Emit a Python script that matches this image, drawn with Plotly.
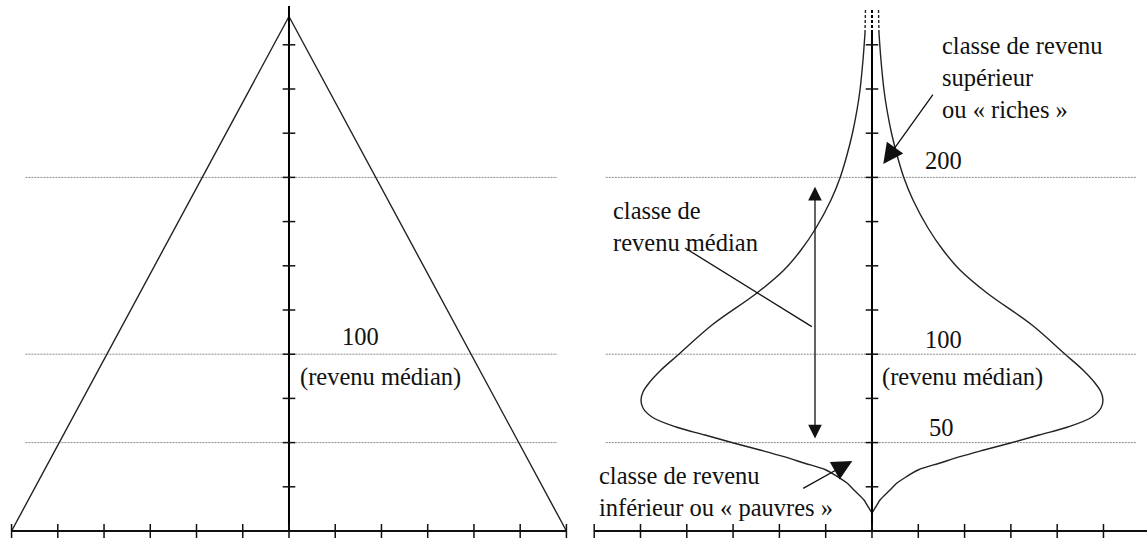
import plotly.graph_objects as go

# ---------------- data ----------------
x_ticks_left = [-6, -5, -4, -3, -2, -1, 0, 1, 2, 3, 4, 5, 6]
x_ticks_right = [-6, -5, -4, -3, -2, -1, 0, 1, 2, 3, 4, 5]
income_ticks = [25, 50, 75, 100, 125, 150, 175, 200, 225, 250, 275]
ref_levels_left = [50, 100, 200]
ref_levels_right = [50, 100, 200]

# pyramid (left panel)
pyramid_x = [-6, 0, 6]
pyramid_y = [0, 291, 0]
axis_top = 297

# income distribution (right panel): income level and half width
dist_levels = [10.18, 14.71, 17.53, 23.19, 27.15, 30.54, 34.50, 38.46, 42.03, 45.81,
               49.77, 54.30, 58.82, 64.48, 69.57, 74.09, 78.62, 83.71, 91.06, 99.55,
               116.52, 134.62, 147.62, 158.94, 171.38, 187.22, 199.66, 212.67, 225.11,
               238.12, 249.43, 266.40, 281.67]
dist_half_width = [0.0, 0.108, 0.173, 0.389, 0.540, 0.734, 0.994, 1.469, 1.901, 2.419,
                   2.991, 3.607, 4.233, 4.752, 4.946, 4.989, 4.946, 4.816, 4.557, 4.190,
                   3.456, 2.484, 1.901, 1.533, 1.210, 0.886, 0.691, 0.540, 0.421,
                   0.324, 0.259, 0.194, 0.151]
dist_top_levels = [281.67, 295.8]
dist_top_half_width = [0.151, 0.14]

# ---------------- figure ----------------
fig = go.Figure()
LINE = "#222222"
FONT = dict(family="Liberation Serif, Times New Roman, serif", size=24.5, color="#111111")

def add(tr):
    fig.add_trace(tr)

# ----- left panel -----
for lv in ref_levels_left:
    add(go.Scatter(x=[-5.7, 5.8], y=[lv, lv], mode="lines", xaxis="x", yaxis="y",
                   line=dict(color="#8a8a8a", width=1, dash="2px,1px"), hoverinfo="skip"))
add(go.Scatter(x=pyramid_x, y=pyramid_y, mode="lines", xaxis="x", yaxis="y",
               line=dict(color=LINE, width=1.4)))
add(go.Scatter(x=[x_ticks_left[0], x_ticks_left[-1]], y=[0, 0], mode="lines",
               xaxis="x", yaxis="y", line=dict(color="#111", width=2)))
add(go.Scatter(x=[0, 0], y=[0, axis_top], mode="lines", xaxis="x", yaxis="y",
               line=dict(color="#000", width=2)))
add(go.Scatter(x=x_ticks_left, y=[0] * len(x_ticks_left), mode="markers", xaxis="x", yaxis="y",
               marker=dict(symbol="line-ns", size=10, line=dict(color="#111", width=1.5))))
add(go.Scatter(x=[0] * len(income_ticks), y=income_ticks, mode="markers", xaxis="x", yaxis="y",
               marker=dict(symbol="line-ew", size=9, line=dict(color="#111", width=1.5))))

# ----- right panel -----
for lv in ref_levels_right:
    add(go.Scatter(x=[-5.75, 5.72], y=[lv, lv], mode="lines", xaxis="x2", yaxis="y2",
                   line=dict(color="#8a8a8a", width=1, dash="2px,1px"), hoverinfo="skip"))
for sgn in (-1, 1):
    add(go.Scatter(x=[sgn * w for w in dist_half_width], y=dist_levels, mode="lines",
                   xaxis="x2", yaxis="y2", line=dict(color=LINE, width=1.4, shape="spline", smoothing=1.0)))
    add(go.Scatter(x=[sgn * w for w in dist_top_half_width], y=dist_top_levels, mode="lines",
                   xaxis="x2", yaxis="y2", line=dict(color=LINE, width=1.4, dash="3px,2px")))
add(go.Scatter(x=[0, 0], y=dist_top_levels, mode="lines", xaxis="x2", yaxis="y2",
               line=dict(color="#000", width=2, dash="3px,2px")))
add(go.Scatter(x=[0, 0], y=[0, dist_top_levels[0]], mode="lines", xaxis="x2", yaxis="y2",
               line=dict(color="#000", width=2)))
add(go.Scatter(x=[x_ticks_right[0], 7], y=[0, 0], mode="lines", xaxis="x2", yaxis="y2",
               line=dict(color="#111", width=2)))
add(go.Scatter(x=x_ticks_right, y=[0] * len(x_ticks_right), mode="markers", xaxis="x2", yaxis="y2",
               marker=dict(symbol="line-ns", size=10, line=dict(color="#111", width=1.5))))
add(go.Scatter(x=[0] * len(income_ticks), y=income_ticks, mode="markers", xaxis="x2", yaxis="y2",
               marker=dict(symbol="line-ew", size=9, line=dict(color="#111", width=1.5))))

# ----- annotations -----
ann = []
def text(x, y, s, ref):
    ann.append(dict(x=x, y=y, xref=ref[0], yref=ref[1], text=s, showarrow=False,
                    xanchor="left", yanchor="middle", align="left", font=FONT))

def arrow(x, y, ax, ay, size, both=False):
    d = dict(x=x, y=y, ax=ax, ay=ay, xref="x2", yref="y2", axref="x2", ayref="y2",
             text="", showarrow=True, arrowhead=2, arrowsize=size,
             arrowwidth=1.3, arrowcolor="#111", standoff=0, startstandoff=0)
    if both:
        d.update(arrowside="end+start", startarrowhead=2, startarrowsize=size)
    ann.append(d)

text(1.10, 109.9, "100", ("x", "y"))
text(0.19, 87.3, "(revenu médian)", ("x", "y"))

text(1.46, 256.5, "classe de revenu<br>supérieur<br>ou « riches »", ("x2", "y2"))
text(1.10, 209.8, "200", ("x2", "y2"))
text(-5.63, 172.5, "classe de<br>revenu médian", ("x2", "y2"))
text(1.10, 108.6, "100", ("x2", "y2"))
text(0.17, 87.1, "(revenu médian)", ("x2", "y2"))
text(1.18, 58.8, "50", ("x2", "y2"))
text(-5.95, 22.1, "classe de revenu<br>inférieur ou « pauvres »", ("x2", "y2"))

arrow(0.244, 207.6, 1.339, 247.6, 3.1)
arrow(-0.425, 39.6, -1.518, 23.6, 3.1)
arrow(-1.231, 194.7, -1.231, 51.5, 2.1, both=True)
add(go.Scatter(x=[-4.04, -1.30], y=[160.1, 115.6], mode="lines", xaxis="x2", yaxis="y2",
               line=dict(color="#111", width=1.3)))

yr = [-4.525, 300.34]
fig.update_layout(
    width=1147, height=539, margin=dict(l=0, r=0, t=0, b=0),
    paper_bgcolor="white", plot_bgcolor="white", showlegend=False,
    xaxis=dict(domain=[0, 0.5], range=[-6.25, 6.153], visible=False),
    yaxis=dict(domain=[0, 1], range=yr, visible=False),
    xaxis2=dict(domain=[0.5, 1], range=[-6.447, 5.94], visible=False, anchor="y2"),
    yaxis2=dict(domain=[0, 1], range=yr, visible=False, anchor="x2"),
    annotations=ann,
)
fig.write_html("out.html", config={"displayModeBar": False},
               post_script="document.body.style.margin='0px';")
